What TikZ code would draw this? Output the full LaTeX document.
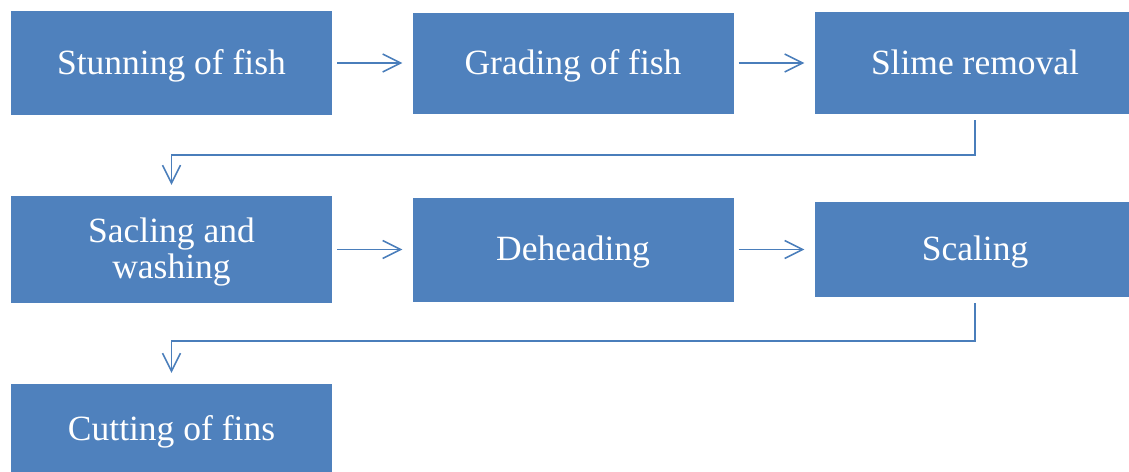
\documentclass[tikz,border=0pt]{standalone}
\usepackage{fontspec}
\setmainfont{Liberation Serif}
\usetikzlibrary{arrows.meta}
\definecolor{boxblue}{HTML}{4F81BD}
\definecolor{linkblue}{HTML}{4A7EBB}
\begin{document}
\begin{tikzpicture}[
    x=1pt, y=1pt,
    % --- Styles ---
    % Filled process step, same baseline in every box
    step box/.style={fill=boxblue, text=white, font=\fontsize{35.5}{36.7}\selectfont,
        align=center, inner sep=0pt, minimum width=321pt,
        text height=25pt, text depth=3pt},
    % Two-line step needs room for the first line
    two lines/.style={text height=61.7pt},
    % Thin open-headed connector
    link line/.style={draw=linkblue, line width=1.5pt,
        -{Straight Barb[length=18pt, width=18pt]}, shorten <=5pt, shorten >=10pt},
    elbow line/.style={link line, shorten <=6pt, shorten >=11pt}
]

%================CONFIGURATION================
% Column centres
\def\colA{171.5}
\def\colB{573}
\def\colC{975}
%=============================================

\useasboundingbox (0,0) rectangle (1129,-471);
\clip (0,0) rectangle (1129,-471);

% --- Row 1 ---
\node[step box, minimum height=104pt] (S1) at (\colA,-63) {Stunning of fish};
\node[step box, minimum height=101pt] (S2) at (\colB,-63) {Grading of fish};
\node[step box, minimum height=102pt] (S3) at (\colC,-63) {Slime removal};

% --- Row 2 ---
\node[step box, two lines, minimum height=107pt] (S4) at (\colA,-249.5) {Sacling and\\washing};
\node[step box, minimum height=104pt] (S5) at (\colB,-249.5) {Deheading};
\node[step box, minimum height=95pt]  (S6) at (\colC,-249.5) {Scaling};

% --- Row 3 ---
\node[step box, minimum height=90pt]  (S7) at (\colA,-429) {Cutting of fins};

% --- Straight links within a row ---
\foreach \a/\b in {S1/S2, S2/S3, S4/S5, S5/S6} {
    \draw[link line] (\a) -- (\b);
}

% --- Elbow links to the next row ---
\draw[elbow line] (S3.south) -- ++(0,-41) -| (S4.north);
\draw[elbow line] (S6.south) -- ++(0,-44) -| (S7.north);

\end{tikzpicture}
\end{document}
